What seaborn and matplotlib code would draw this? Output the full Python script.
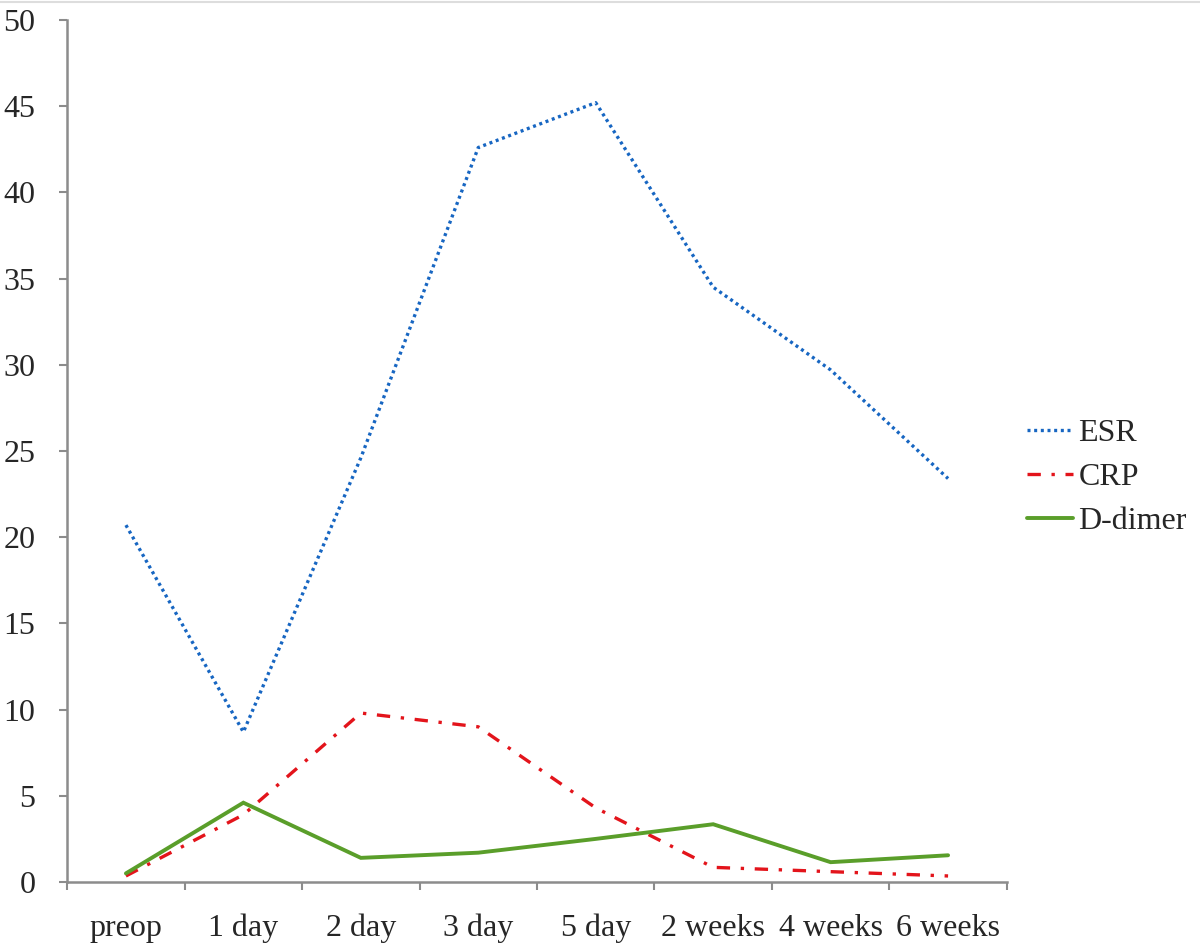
"""Time course of ESR, CRP and D-dimer after surgery."""
import numpy as np
import pandas as pd
import matplotlib
matplotlib.use("Agg")
import matplotlib.pyplot as plt
from matplotlib.lines import Line2D
import seaborn as sns

# data
timepoints = ["preop", "1 day", "2 day", "3 day", "5 day", "2 weeks", "4 weeks", "6 weeks"]
esr = [20.7, 8.7, 24.6, 42.6, 45.2, 34.5, 29.7, 23.4]
crp = [0.35, 3.9, 9.8, 9.0, 4.3, 0.85, 0.6, 0.35]
ddimer = [0.5, 4.6, 1.4, 1.7, 2.5, 3.35, 1.15, 1.55]
series_names = ["ESR", "CRP", "D-dimer"]
yticks = list(range(0, 55, 5))

df = pd.DataFrame({
    "time": timepoints * 3,
    "pos": list(range(len(timepoints))) * 3,
    "value": esr + crp + ddimer,
    "series": sum([[n] * len(timepoints) for n in series_names], []),
})

sns.set_style("white")
plt.rcParams["font.family"] = ["Liberation Serif", "DejaVu Serif"]

palette = {"ESR": "#1766c2", "CRP": "#e3141b", "D-dimer": "#5a9e2a"}
widths = {"ESR": 2.4, "CRP": 2.4, "D-dimer": 2.8}
dashes = {"ESR": (0.9, 1.1), "CRP": (4, 3.2, 1, 3.2), "D-dimer": ""}

fig = plt.figure(figsize=(12, 9.49), dpi=100)
ax = fig.add_axes([0.056, 0.0706, 0.783, 0.9084])

for name in series_names:
    sub = df[df["series"] == name]
    sns.lineplot(data=sub, x="pos", y="value", color=palette[name],
                 linewidth=widths[name], ax=ax, sort=False)
    line = ax.get_lines()[-1]
    if dashes[name]:
        line.set_dashes(dashes[name])
    line.set_dash_capstyle("butt")
    line.set_solid_joinstyle("miter")

ax.set_xlim(-0.5, len(timepoints) - 0.5)
ax.set_ylim(0, 50)
ax.set_yticks(yticks)
ax.set_xticks(range(len(timepoints)))
ax.set_xticklabels(timepoints)
ax.set_xticks(np.arange(-0.5, len(timepoints), 1.0), minor=True)
ax.set_xlabel("")
ax.set_ylabel("")

for side in ["top", "right"]:
    ax.spines[side].set_visible(False)
for side in ["left", "bottom"]:
    ax.spines[side].set_color("#8c8c8c")
    ax.spines[side].set_linewidth(1.8)

ax.tick_params(axis="y", which="major", direction="out", length=6, width=1.5,
               color="#8c8c8c", labelsize=23, pad=17, left=True)
ax.tick_params(axis="x", which="major", length=0, labelsize=23, pad=23)
ax.tick_params(axis="x", which="minor", direction="out", length=6, width=1.5,
               color="#8c8c8c", bottom=True)

handles = []
for name in series_names:
    h = Line2D([], [], color=palette[name], linewidth=widths[name],
               dash_capstyle="butt")
    if dashes[name]:
        h.set_dashes(dashes[name])
    handles.append(h)
fig.legend(handles, series_names, loc="center left",
           bbox_to_anchor=(0.832, 0.497), frameon=False, fontsize=23,
           handlelength=1.45, handletextpad=0.15, labelspacing=0.45)

# thin border line at the top of the screenshot
fig.add_artist(Line2D([0, 1], [0.998, 0.998], color="#dddddd", linewidth=1.5,
                      transform=fig.transFigure))

fig.savefig("out.png", dpi=100)
